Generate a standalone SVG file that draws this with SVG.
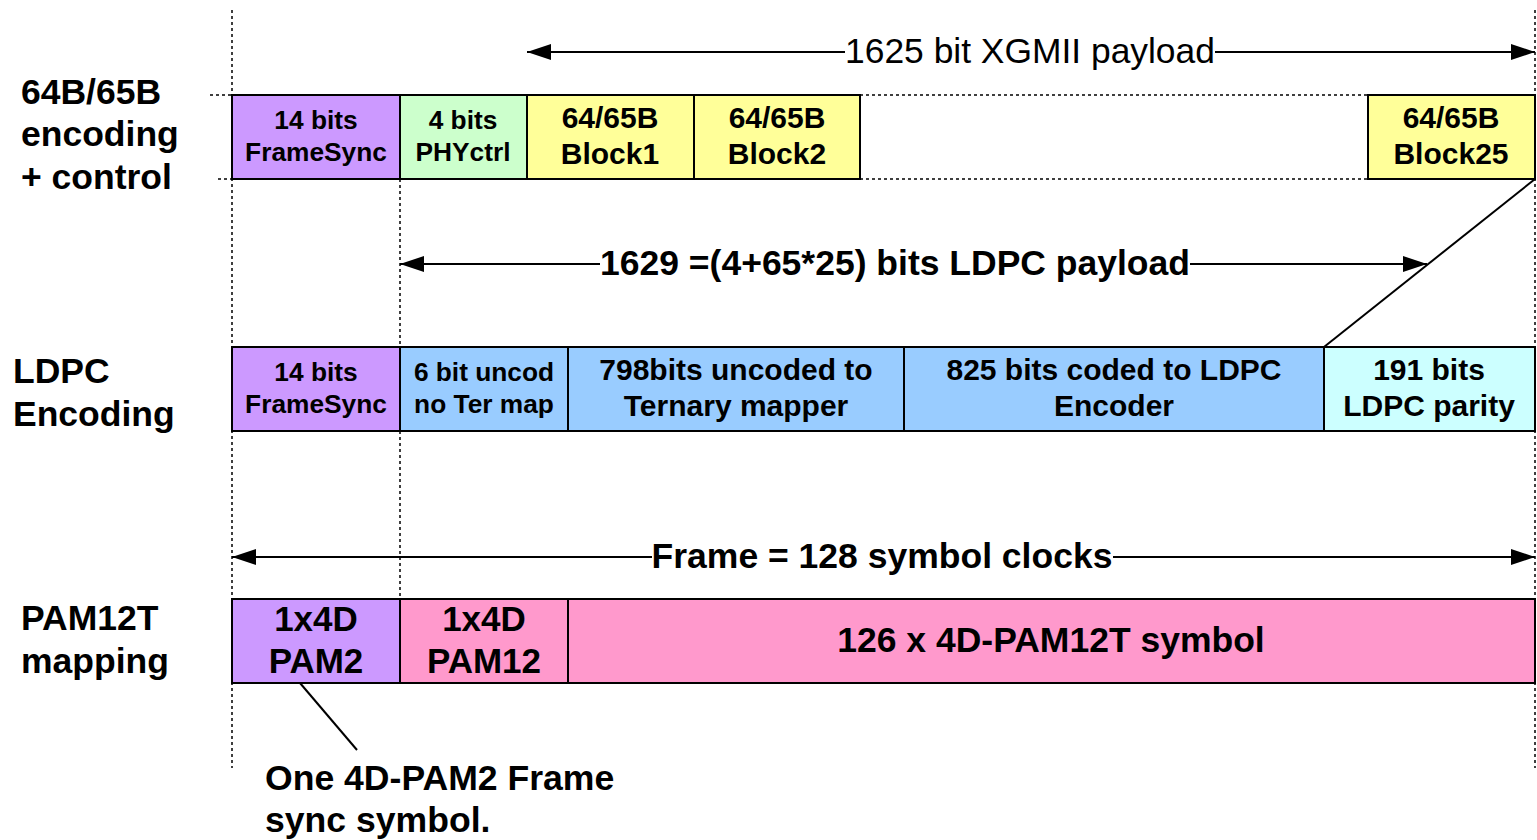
<svg xmlns="http://www.w3.org/2000/svg" width="1537" height="840" viewBox="0 0 1537 840">
<defs>
<style>
.t{font-family:"Liberation Sans",Arial,sans-serif;font-weight:bold;fill:#000}
.r{font-family:"Liberation Sans",Arial,sans-serif;font-weight:normal;fill:#000}
.box{stroke:#000;stroke-width:2}
.dot{stroke:#000;stroke-width:1.5;stroke-dasharray:3,3;fill:none}
.ln{stroke:#000;stroke-width:2;fill:none}
.purple{fill:#cc99ff}.green{fill:#ccffcc}.yellow{fill:#ffff99}.blue{fill:#99ccff}.cyan{fill:#ccffff}.pink{fill:#ff99cc}
</style>
<marker id="ah" viewBox="0 0 24 16" refX="24" refY="8" markerWidth="24" markerHeight="16" markerUnits="userSpaceOnUse" orient="auto-start-reverse">
<path d="M0,0 L24,8 L0,16 z" fill="#000"/>
</marker>
</defs>
<rect width="1537" height="840" fill="#fff"/>
<g id="guides">
<line class="dot" x1="232" y1="10" x2="232" y2="768"/>
<line class="dot" x1="400" y1="179" x2="400" y2="599"/>
<line class="dot" x1="1535" y1="10" x2="1535" y2="768"/>
<line class="dot" x1="210" y1="95" x2="232" y2="95"/>
<line class="dot" x1="218" y1="179" x2="232" y2="179"/>
<line class="dot" x1="860" y1="95" x2="1368" y2="95"/>
<line class="dot" x1="860" y1="179" x2="1368" y2="179"/>
</g>
<g id="labels">
<text class="t" font-size="35.5" x="21" y="104">64B/65B</text>
<text class="t" font-size="35.5" x="21" y="146">encoding</text>
<text class="t" font-size="35.5" x="21" y="189">+ control</text>
<text class="t" font-size="35.5" x="13" y="383">LDPC</text>
<text class="t" font-size="35.5" x="13" y="426">Encoding</text>
<text class="t" font-size="35.5" x="21" y="630">PAM12T</text>
<text class="t" font-size="35.5" x="21" y="673">mapping</text>
</g>
<g id="row1">
<g id="r1-framesync"><rect class="box purple" x="232" y="95" width="168" height="84"/><text class="t" font-size="26.3" x="316" y="129" text-anchor="middle">14 bits</text><text class="t" font-size="26.3" x="316" y="161" text-anchor="middle">FrameSync</text></g>
<g id="r1-phyctrl"><rect class="box green" x="400" y="95" width="127" height="84"/><text class="t" font-size="26.3" x="463" y="129" text-anchor="middle">4 bits</text><text class="t" font-size="26.3" x="463" y="161" text-anchor="middle">PHYctrl</text></g>
<g id="r1-block1"><rect class="box yellow" x="527" y="95" width="167" height="84"/><text class="t" font-size="30" x="610" y="128" text-anchor="middle">64/65B</text><text class="t" font-size="30" x="610" y="164" text-anchor="middle">Block1</text></g>
<g id="r1-block2"><rect class="box yellow" x="694" y="95" width="166" height="84"/><text class="t" font-size="30" x="777" y="128" text-anchor="middle">64/65B</text><text class="t" font-size="30" x="777" y="164" text-anchor="middle">Block2</text></g>
<g id="r1-block25"><rect class="box yellow" x="1368" y="95" width="167" height="84"/><text class="t" font-size="30" x="1451" y="128" text-anchor="middle">64/65B</text><text class="t" font-size="30" x="1451" y="164" text-anchor="middle">Block25</text></g>
</g>
<g id="row2">
<g id="r2-framesync"><rect class="box purple" x="232" y="347" width="168" height="84"/><text class="t" font-size="26.3" x="316" y="381" text-anchor="middle">14 bits</text><text class="t" font-size="26.3" x="316" y="413" text-anchor="middle">FrameSync</text></g>
<g id="r2-uncod"><rect class="box blue" x="400" y="347" width="168" height="84"/><text class="t" font-size="26.3" x="484" y="381" text-anchor="middle">6 bit uncod</text><text class="t" font-size="26.3" x="484" y="413" text-anchor="middle">no Ter map</text></g>
<g id="r2-uncoded"><rect class="box blue" x="568" y="347" width="336" height="84"/><text class="t" font-size="30" x="736" y="380" text-anchor="middle">798bits uncoded to</text><text class="t" font-size="30" x="736" y="416" text-anchor="middle">Ternary mapper</text></g>
<g id="r2-coded"><rect class="box blue" x="904" y="347" width="420" height="84"/><text class="t" font-size="30" x="1114" y="380" text-anchor="middle">825 bits coded to LDPC</text><text class="t" font-size="30" x="1114" y="416" text-anchor="middle">Encoder</text></g>
<g id="r2-parity"><rect class="box cyan" x="1324" y="347" width="211" height="84"/><text class="t" font-size="30" x="1429" y="380" text-anchor="middle">191 bits</text><text class="t" font-size="30" x="1429" y="416" text-anchor="middle">LDPC parity</text></g>
</g>
<g id="row3">
<g id="r3-pam2"><rect class="box purple" x="232" y="599" width="168" height="84"/><text class="t" font-size="35" x="316" y="631" text-anchor="middle">1x4D</text><text class="t" font-size="35" x="316" y="673" text-anchor="middle">PAM2</text></g>
<g id="r3-pam12"><rect class="box pink" x="400" y="599" width="168" height="84"/><text class="t" font-size="35" x="484" y="631" text-anchor="middle">1x4D</text><text class="t" font-size="35" x="484" y="673" text-anchor="middle">PAM12</text></g>
<g id="r3-symbols"><rect class="box pink" x="568" y="599" width="967" height="84"/><text class="t" font-size="35.5" x="1051" y="652" text-anchor="middle">126 x 4D-PAM12T symbol</text></g>
</g>
<g id="connectors">
<line class="ln" x1="1535" y1="179" x2="1324" y2="347"/>
<line class="ln" x1="300" y1="683" x2="357" y2="750"/>
<line class="ln" x1="527" y1="52" x2="845" y2="52" marker-start="url(#ah)"/>
<line class="ln" x1="1215" y1="52" x2="1535" y2="52" marker-end="url(#ah)"/>
<line class="ln" x1="400" y1="264" x2="600" y2="264" marker-start="url(#ah)"/>
<line class="ln" x1="1190" y1="264" x2="1427" y2="264" marker-end="url(#ah)"/>
<line class="ln" x1="232" y1="557" x2="652" y2="557" marker-start="url(#ah)"/>
<line class="ln" x1="1113" y1="557" x2="1535" y2="557" marker-end="url(#ah)"/>
<text class="r" font-size="35.4" x="1030" y="63" text-anchor="middle">1625 bit XGMII payload</text>
<text class="t" font-size="35.5" x="895" y="275" text-anchor="middle">1629 =(4+65*25) bits LDPC payload</text>
<text class="t" font-size="35.5" x="882" y="568" text-anchor="middle">Frame = 128 symbol clocks</text>
</g>
<g id="note">
<text class="t" font-size="35.6" x="265" y="790">One 4D-PAM2 Frame</text>
<text class="t" font-size="35.6" x="265" y="832">sync symbol.</text>
</g>
</svg>
